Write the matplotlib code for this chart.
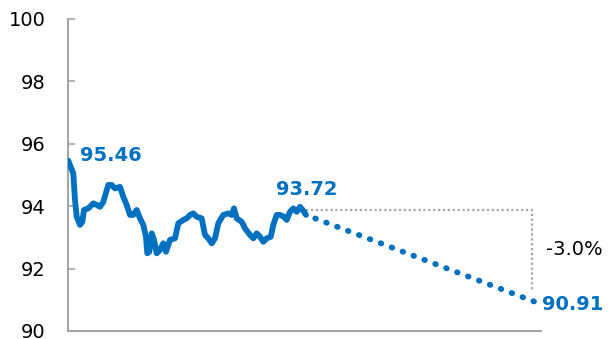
import matplotlib
matplotlib.use("Agg")
import matplotlib.pyplot as plt

# Solid series (time index, value)
hist_x = [0.3, 5.3, 7, 8.7, 12, 14.3, 16, 20.3, 25.3, 28.7, 32, 35.3, 40.3, 43.7, 47, 52,
          55.3, 58.7, 62, 65.3, 68.7, 72, 75.3, 78, 79.3, 81.3, 83.7, 86, 88.7, 92, 95.3,
          98, 102, 107, 110.3, 115.3, 118.7, 122, 125.3, 128.7, 133.7, 137, 140.3, 143.7,
          147, 150.3, 155.3, 160.3, 163.7, 166, 168.7, 173.7, 177, 182, 185.3, 188.7, 192,
          195.3, 198.7, 202.7, 205.3, 208.7, 212, 216, 218.7, 222, 225.3, 228.7, 232, 234.7, 238]
hist_y = [95.46, 95.05, 94.20, 93.66, 93.40, 93.50, 93.88, 93.93, 94.09, 94.04, 93.98, 94.14,
          94.68, 94.68, 94.57, 94.62, 94.30, 94.04, 93.72, 93.72, 93.88, 93.61, 93.40, 93.02,
          92.49, 92.54, 93.13, 92.92, 92.49, 92.60, 92.81, 92.54, 92.92, 92.97, 93.45, 93.56,
          93.61, 93.72, 93.77, 93.66, 93.61, 93.08, 92.97, 92.81, 92.97, 93.45, 93.72, 93.77,
          93.72, 93.93, 93.61, 93.50, 93.29, 93.08, 92.97, 93.13, 93.02, 92.86, 92.97, 93.02,
          93.40, 93.72, 93.72, 93.66, 93.56, 93.82, 93.93, 93.82, 93.98, 93.88, 93.72]

# Projection
proj_x = [238, 469]
proj_y = [93.72, 90.91]

# Reference bracket (gray dotted)
ref_x = [238, 464]
ref_y = [93.88, 91.26]

start_label = "95.46"
end_label = "93.72"
proj_label = "90.91"
change_label = "-3.0%"

yticks = [90, 92, 94, 96, 98, 100]

blue = "#0070C0"
gray = "#A6A6A6"

fig = plt.figure(figsize=(6.11, 3.39), dpi=100)
ax = fig.add_axes([68/611, 8/339, 473/611, 312/339])
ax.set_xlim(0, 473)
ax.set_ylim(90, 100)

ax.plot([ref_x[0], ref_x[1], ref_x[1]], [ref_y[0], ref_y[0], ref_y[1]],
        color=gray, lw=1.6, linestyle=(0, (1, 1.2)), zorder=1)

ax.plot(hist_x, hist_y, color=blue, lw=4.2, solid_joinstyle="round",
        solid_capstyle="round", zorder=3)
ax.plot(proj_x, proj_y, color=blue, lw=4.2, linestyle=(0.3, (0.1, 1.9)),
        dash_capstyle="round", zorder=3)

for s in ["top", "right"]:
    ax.spines[s].set_visible(False)
for s in ["left", "bottom"]:
    ax.spines[s].set_color(gray)
    ax.spines[s].set_linewidth(1.5)

ax.set_yticks(yticks)
ax.set_yticklabels([str(t) for t in yticks])
ax.tick_params(axis="y", direction="in", length=5, width=1.2, color=gray,
               labelsize=14, pad=16, labelcolor="black")
ax.set_xticks([])

ax.text(12, 95.64, start_label, color=blue, fontsize=14, fontweight="bold",
        ha="left", va="center")
ax.text(239, 94.52, end_label, color=blue, fontsize=14, fontweight="bold",
        ha="center", va="center")
ax.text(474, 90.86, proj_label, color=blue, fontsize=14, fontweight="bold",
        ha="left", va="center", clip_on=False)
ax.text(478, 92.62, change_label, color="black", fontsize=14,
        ha="left", va="center", clip_on=False)

fig.savefig("out.png", dpi=100)
